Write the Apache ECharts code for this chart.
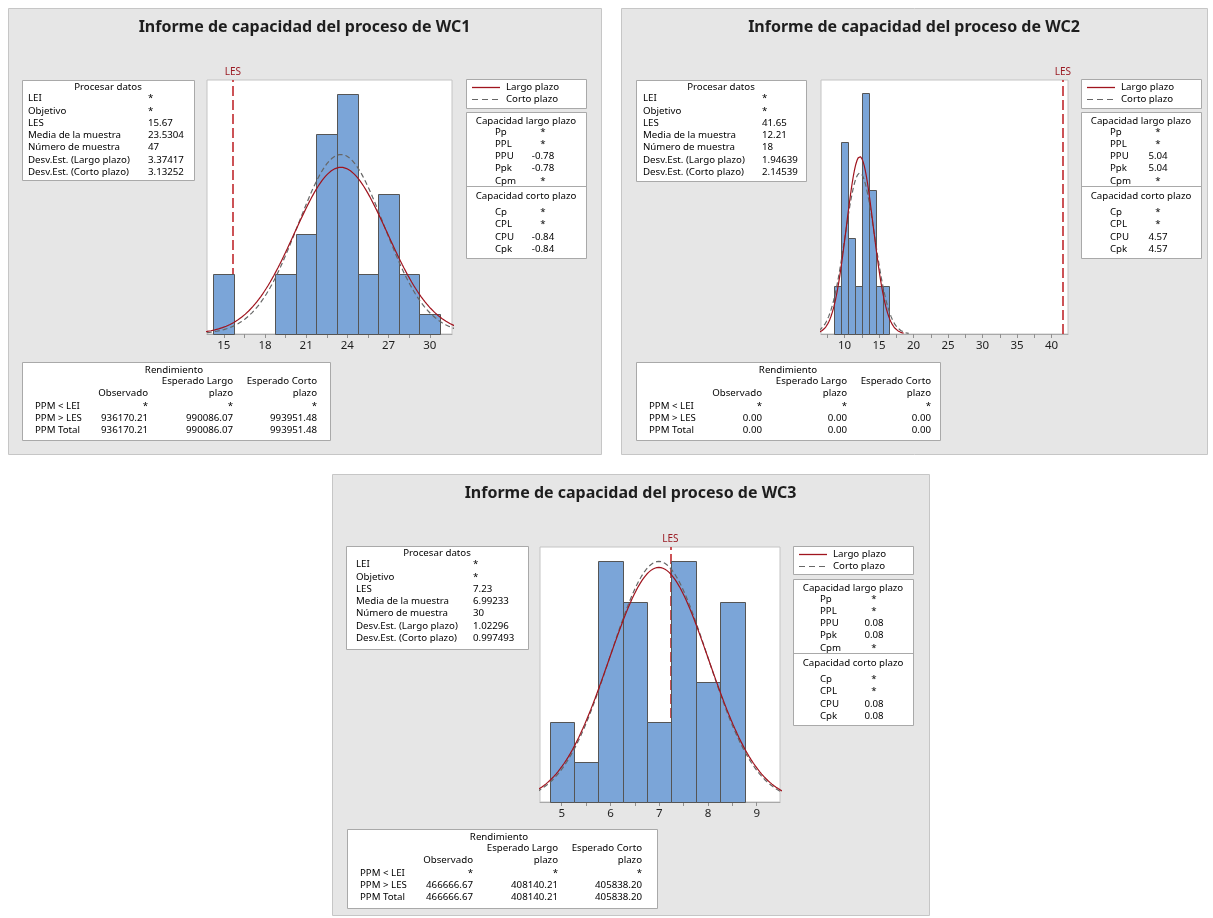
<!DOCTYPE html>
<html>
<head>
<meta charset="utf-8">
<title>Informe de capacidad del proceso</title>
<script src="https://cdn.jsdelivr.net/npm/echarts@6.0.0/dist/echarts.min.js"></script>
<style>
  html, body { margin: 0; padding: 0; background: #fff; }
  #main { width: 1213px; height: 918px; }
</style>
</head>
<body>
<div id="main"></div>
<script>
// datos
var procesos = ['WC1', 'WC2', 'WC3'];

// histogramas: punto medio de cada clase y frecuencia
var wc1Mid = [15, 16.5, 18, 19.5, 21, 22.5, 24, 25.5, 27, 28.5, 30];
var wc1Count = [3, 0, 0, 3, 5, 10, 12, 3, 7, 3, 1];
var wc2Mid = [9, 10, 11, 12, 13, 14, 15, 16];
var wc2Count = [1, 4, 2, 1, 5, 3, 1, 1];
var wc3Mid = [5, 5.5, 6, 6.5, 7, 7.5, 8, 8.5];
var wc3Count = [2, 1, 6, 5, 2, 6, 3, 5];
var binWidth = [1.5, 1, 0.5];

// parametros del proceso
var les = [15.67, 41.65, 7.23];
var media = [23.5304, 12.21, 6.99233];
var nMuestra = [47, 18, 30];
var sdLargo = [3.37417, 1.94639, 1.02296];
var sdCorto = [3.13252, 2.14539, 0.997493];

// marcas del eje x
var wc1Ticks = [15, 18, 21, 24, 27, 30];
var wc2Ticks = [10, 15, 20, 25, 30, 35, 40];
var wc3Ticks = [5, 6, 7, 8, 9];
var wc1Minor = [16.5, 19.5, 22.5, 25.5, 28.5];
var wc2Minor = [7.5, 12.5, 17.5, 22.5, 27.5, 32.5, 37.5];
var wc3Minor = [5.5, 6.5, 7.5, 8.5];

// tablas
var procLabels = ['LEI', 'Objetivo', 'LES', 'Media de la muestra', 'Número de muestra', 'Desv.Est. (Largo plazo)', 'Desv.Est. (Corto plazo)'];
var wc1Proc = ['*', '*', '15.67', '23.5304', '47', '3.37417', '3.13252'];
var wc2Proc = ['*', '*', '41.65', '12.21', '18', '1.94639', '2.14539'];
var wc3Proc = ['*', '*', '7.23', '6.99233', '30', '1.02296', '0.997493'];

var largoLabels = ['Pp', 'PPL', 'PPU', 'Ppk', 'Cpm'];
var wc1Largo = ['*', '*', '-0.78', '-0.78', '*'];
var wc2Largo = ['*', '*', '5.04', '5.04', '*'];
var wc3Largo = ['*', '*', '0.08', '0.08', '*'];
var cortoLabels = ['Cp', 'CPL', 'CPU', 'Cpk'];
var wc1Corto = ['*', '*', '-0.84', '-0.84'];
var wc2Corto = ['*', '*', '4.57', '4.57'];
var wc3Corto = ['*', '*', '0.08', '0.08'];

var ppmLabels = ['PPM < LEI', 'PPM > LES', 'PPM Total'];
var wc1Ppm = [['*', '*', '*'], ['936170.21', '990086.07', '993951.48'], ['936170.21', '990086.07', '993951.48']];
var wc2Ppm = [['*', '*', '*'], ['0.00', '0.00', '0.00'], ['0.00', '0.00', '0.00']];
var wc3Ppm = [['*', '*', '*'], ['466666.67', '408140.21', '405838.20'], ['466666.67', '408140.21', '405838.20']];

var mids = [wc1Mid, wc2Mid, wc3Mid];
var counts = [wc1Count, wc2Count, wc3Count];
var ticks = [wc1Ticks, wc2Ticks, wc3Ticks];
var minors = [wc1Minor, wc2Minor, wc3Minor];
var procVals = [wc1Proc, wc2Proc, wc3Proc];
var largoVals = [wc1Largo, wc2Largo, wc3Largo];
var cortoVals = [wc1Corto, wc2Corto, wc3Corto];
var ppmVals = [wc1Ppm, wc2Ppm, wc3Ppm];

// posiciones de cada informe
var layout = [
  { panel: [8, 8, 593, 446], proc: [22, 80, 172, 100, 6, 126], plot: [207, 80, 245, 254], xr: [13.78, 31.62], ymax: 12.7,
    leg: [466, 79, 120, 29], cap: [466, 112, 120, 146, 29, 77], ppm: [22, 362, 308, 78] },
  { panel: [621, 8, 586, 446], proc: [636, 80, 170, 101, 7, 126], plot: [821, 80, 247, 254], xr: [6.58, 42.38], ymax: 5.28,
    leg: [1081, 79, 120, 29], cap: [1081, 112, 120, 146, 29, 77], ppm: [636, 362, 304, 78] },
  { panel: [332, 474, 597, 441], proc: [346, 546, 182, 103, 10, 127], plot: [540, 547, 240, 255], xr: [4.555, 9.478], ymax: 6.36,
    leg: [793, 546, 120, 28], cap: [793, 579, 120, 146, 27, 81], ppm: [347, 829, 310, 79] }
];

var FONT = '"Noto Sans", "DejaVu Sans", sans-serif';
var ROJO = '#a0141e';
var GRIS = '#666';

function txt(x, y, s, o) {
  o = o || {};
  return {
    type: 'text', z: 20, silent: true,
    style: {
      x: x, y: y, text: s, fontSize: o.size || 9.7, fontFamily: FONT,
      fontWeight: o.weight || 'normal', fill: o.color || '#000',
      align: o.align || 'left', verticalAlign: 'middle'
    }
  };
}
function rect(b, fill, stroke, z) {
  return {
    type: 'rect', z: z, silent: true,
    shape: { x: b[0] + 0.5, y: b[1] + 0.5, width: b[2], height: b[3] },
    style: { fill: fill, stroke: stroke, lineWidth: 1 }
  };
}
function hline(x1, x2, y, color, width, dash, z) {
  return {
    type: 'line', z: z || 20, silent: true,
    shape: { x1: x1, y1: y, x2: x2, y2: y },
    style: { stroke: color, lineWidth: width, lineDash: dash || null }
  };
}

var graphic = [];
var grids = [], xAxes = [], yAxes = [], series = [];

procesos.forEach(function (name, i) {
  var L = layout[i];
  var p = L.panel;
  graphic.push(rect(p, '#e6e6e6', '#c6c6c6', -10));
  graphic.push(txt(p[0] + p[2] / 2, p[1] + 19, 'Informe de capacidad del proceso de ' + name,
    { size: 16, weight: 'bold', align: 'center', color: '#1e1e1e' }));

  // Procesar datos
  var b = L.proc;
  graphic.push(rect(b, '#fff', '#a9a9a9', 5));
  graphic.push(txt(b[0] + b[2] / 2, b[1] + 7.5, 'Procesar datos', { align: 'center' }));
  procLabels.forEach(function (lab, k) {
    var y = b[1] + 18.5 + 12.3 * k;
    graphic.push(txt(b[0] + b[4], y, lab));
    graphic.push(txt(b[0] + b[5], y, procVals[i][k]));
  });

  // leyenda
  var g = L.leg;
  graphic.push(rect(g, '#fff', '#a9a9a9', 5));
  graphic.push(hline(g[0] + 6, g[0] + 34, g[1] + 8.5, ROJO, 1.3));
  graphic.push(txt(g[0] + 40, g[1] + 8, 'Largo plazo'));
  graphic.push(hline(g[0] + 6, g[0] + 34, g[1] + 20.5, GRIS, 1.2, [6, 4]));
  graphic.push(txt(g[0] + 40, g[1] + 20, 'Corto plazo'));

  // capacidad
  var c = L.cap;
  graphic.push(rect(c, '#fff', '#a9a9a9', 5));
  graphic.push(hline(c[0], c[0] + c[2], c[1] + 74.5, '#a9a9a9', 1));
  graphic.push(txt(c[0] + c[2] / 2, c[1] + 9.5, 'Capacidad largo plazo', { align: 'center' }));
  largoLabels.forEach(function (lab, k) {
    var y = c[1] + 20 + 12.2 * k;
    graphic.push(txt(c[0] + c[4], y, lab));
    graphic.push(txt(c[0] + c[5], y, largoVals[i][k], { align: 'center' }));
  });
  graphic.push(txt(c[0] + c[2] / 2, c[1] + 84.5, 'Capacidad corto plazo', { align: 'center' }));
  cortoLabels.forEach(function (lab, k) {
    var y = c[1] + 100 + 12.5 * k;
    graphic.push(txt(c[0] + c[4], y, lab));
    graphic.push(txt(c[0] + c[5], y, cortoVals[i][k], { align: 'center' }));
  });

  // rendimiento
  var r = L.ppm;
  var cols = [r[0] + 126, r[0] + 211, r[0] + 295];
  graphic.push(rect(r, '#fff', '#a9a9a9', 5));
  graphic.push(txt(r[0] + 152, r[1] + 8, 'Rendimiento', { align: 'center' }));
  graphic.push(txt(cols[1], r[1] + 19.5, 'Esperado Largo', { align: 'right' }));
  graphic.push(txt(cols[2], r[1] + 19.5, 'Esperado Corto', { align: 'right' }));
  graphic.push(txt(cols[0], r[1] + 31.5, 'Observado', { align: 'right' }));
  graphic.push(txt(cols[1], r[1] + 31.5, 'plazo', { align: 'right' }));
  graphic.push(txt(cols[2], r[1] + 31.5, 'plazo', { align: 'right' }));
  ppmLabels.forEach(function (lab, k) {
    var y = r[1] + 44 + 12.3 * k;
    graphic.push(txt(r[0] + 13, y, lab));
    ppmVals[i][k].forEach(function (v, j) {
      graphic.push(txt(cols[j], y, v, { align: 'right' }));
    });
  });

  // grafico
  var q = L.plot;
  grids.push({ left: q[0], top: q[1], width: q[2], height: q[3], show: true,
    backgroundColor: '#fff', borderColor: '#c4c4c4', borderWidth: 1 });
  xAxes.push({
    type: 'value', gridIndex: i, min: L.xr[0], max: L.xr[1],
    axisLine: { show: true, lineStyle: { color: '#a8a8a8' } },
    axisTick: { show: true, length: 4, lineStyle: { color: '#909090' },
      customValues: ticks[i].concat(minors[i]) },
    axisLabel: { customValues: ticks[i], fontSize: 11.5, fontFamily: FONT, color: '#1e1e1e', margin: 6 },
    splitLine: { show: false }
  });
  yAxes.push({ type: 'value', gridIndex: i, min: 0, max: L.ymax, show: false, splitLine: { show: false } });

  var w = binWidth[i];
  series.push({
    type: 'custom', name: name, xAxisIndex: i, yAxisIndex: i, z: 3, silent: true,
    data: mids[i].map(function (m, k) { return [m, counts[i][k]]; }),
    renderItem: function (params, api) {
      var n = api.value(1);
      if (!n) return null;
      var a = api.coord([api.value(0) - w / 2, 0]);
      var t = api.coord([api.value(0) + w / 2, n]);
      return {
        type: 'rect',
        shape: { x: Math.round(a[0]) + 0.5, y: Math.round(t[1]) + 0.5,
          width: Math.round(t[0]) - Math.round(a[0]), height: Math.round(a[1]) - Math.round(t[1]) },
        style: { fill: '#7ba5d8', stroke: '#555', lineWidth: 1 }
      };
    }
  });

  // curvas normales ajustadas (largo y corto plazo)
  [[sdLargo[i], ROJO, 'solid', 'Largo plazo'], [sdCorto[i], GRIS, [5, 3], 'Corto plazo']].forEach(function (cv) {
    var sd = cv[0];
    var pts = [];
    var lo = media[i] - 3.3 * sd, hi = media[i] + 3.3 * sd;
    for (var k = 0; k <= 160; k++) {
      var x = lo + (hi - lo) * k / 160;
      var zz = (x - media[i]) / sd;
      pts.push([x, nMuestra[i] * w / (sd * Math.sqrt(2 * Math.PI)) * Math.exp(-zz * zz / 2)]);
    }
    var s = {
      type: 'line', name: cv[3], xAxisIndex: i, yAxisIndex: i, data: pts,
      symbol: 'none', smooth: false, silent: true, clip: true, z: cv[3] === 'Largo plazo' ? 5 : 4,
      lineStyle: { color: cv[1], width: 1.2, type: cv[2] }
    };
    if (cv[3] === 'Largo plazo') {
      s.markLine = {
        silent: true, symbol: 'none', z: 1, animation: false,
        lineStyle: { color: '#c0282d', type: [10, 4], width: 1.6 },
        label: { formatter: 'LES', position: 'end', distance: 3, color: '#9b1c24', fontSize: 10, fontFamily: FONT },
        data: [{ xAxis: les[i] }]
      };
    }
    series.push(s);
  });
});

var chart = echarts.init(document.getElementById('main'));
chart.setOption({
  animation: false,
  backgroundColor: '#fff',
  graphic: { elements: graphic },
  grid: grids,
  xAxis: xAxes,
  yAxis: yAxes,
  series: series
});
</script>
</body>
</html>
